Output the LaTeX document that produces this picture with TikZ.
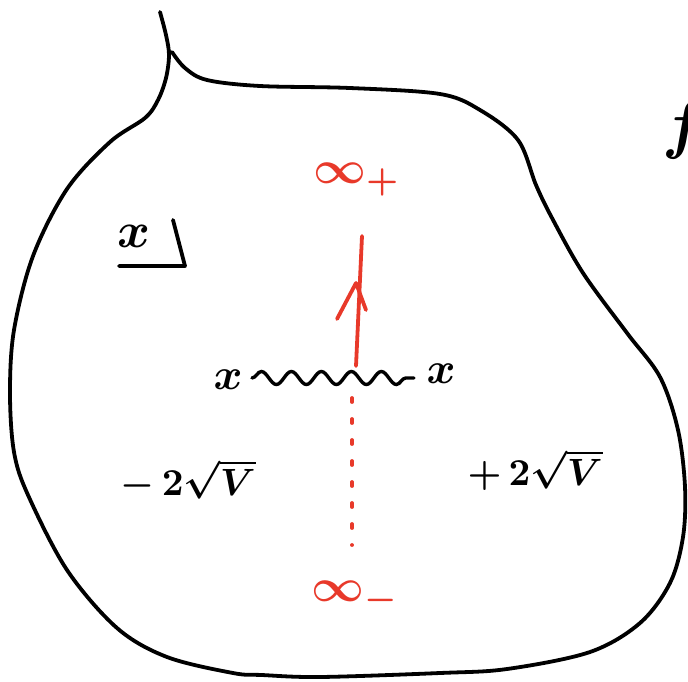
\documentclass[tikz,border=0pt]{standalone}
\usepackage{graphicx}
\usetikzlibrary{decorations.pathmorphing,calc}
\definecolor{penred}{RGB}{232,57,42}
\newcommand\hwtext[2]{\scalebox{#1}{\boldmath$#2$}}
\begin{document}
\begin{tikzpicture}[x=1pt,y=-1pt,
  ink/.style={line width=3.8pt, line cap=round, line join=round},
  redink/.style={ink, draw=penred},
  bigtext/.style={inner sep=0pt},
  redtext/.style={bigtext, text=penred}]
\useasboundingbox (0,0) rectangle (688,681);
% outline of the region (with cusp)
\draw[ink] plot[smooth, tension=0.55] coordinates {(160,12) (166,35) (169,55) (166,78) (158,100) (145,118) (110,142) (67,189) (33,256) (14,330) (10,393) (14,452) (28,495) (67,570) (117,628) (167,657) (233,673) (262,675) (320,677) (440,673) (507,669) (590,652) (640,623) (670,583) (683,537) (685,487) (678,430) (660,377) (627,333) (583,273) (552,218) (536,185) (518,140) (480,110) (440,94) (350,88) (260,86) (207,80) (185,68) (172,52)};
% x-plane label
\node[bigtext] (xl) at (134,236) {\hwtext{5}{x}};
\coordinate (c1) at (119,266);
\coordinate (c2) at (185,266);
\coordinate (c3) at (173,220);
\draw[ink] (c1) -- (c2) -- (c3);
% infinities
\node[redtext] (ip) at (357,180) {\hwtext{4.6}{\infty_{+}}};
\node[redtext] (im) at (355,598) {\hwtext{4.6}{\infty_{-}}};
% branch points and cut
\node[bigtext] (bl) at (228,380) {\hwtext{4.4}{x}};
\node[bigtext] (br) at (441,374) {\hwtext{4.4}{x}};
\coordinate (w1) at (252,378);
\coordinate (w2) at (414,378);
\draw[line width=3.4pt, line cap=round, decorate, decoration={snake, amplitude=6.5pt, segment length=30pt}] (w1) -- (w2);
% red arrow
\coordinate (ab) at (356,366);
\coordinate (at) at (362,236);
\draw[redink] (ab) -- (at);
\coordinate (ah) at (356,283);
\draw[redink] (ah) ++(-19,36) -- (ah) -- ++(10,27);
% dotted path
\coordinate (d1) at (352,398);
\coordinate (d2) at (352,545);
\draw[penred, line width=3.8pt, line cap=round, dash pattern=on 4pt off 17pt] (d1) -- (d2);
% sheet labels
\node[bigtext] (lm) at (188,480) {\hwtext{3.8}{-\,2\sqrt{V}}};
\node[bigtext] (lp) at (535,470) {\hwtext{3.8}{+\,2\sqrt{V}}};
% cut-off letter at right edge
\node[bigtext, anchor=west] (fr) at (662,130) {\hwtext{6.5}{f}};
\end{tikzpicture}
\end{document}
